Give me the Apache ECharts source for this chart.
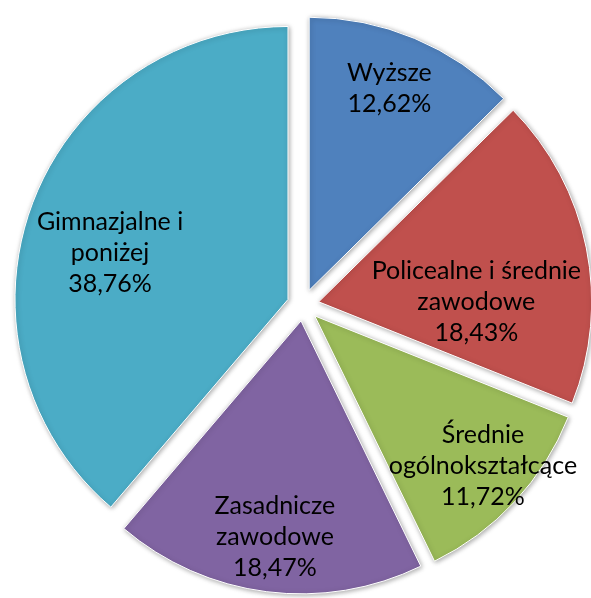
<!DOCTYPE html>
<html><head><meta charset="utf-8">
<script src="https://cdn.jsdelivr.net/npm/echarts@6/dist/echarts.min.js"></script>
<style>html,body{margin:0;padding:0;background:#fff}#c{width:591px;height:598px}</style>
</head><body><div id="c"></div>
<script>
const categories = ['Wyższe', 'Policealne i średnie\nzawodowe', 'Średnie\nogólnokształcące', 'Zasadnicze\nzawodowe', 'Gimnazjalne i\nponiżej'];
const values = [12.62, 18.43, 11.72, 18.47, 38.76];
const colors = ['#4F81BD', '#C0504D', '#9BBB59', '#8064A2', '#4BACC6'];
// small label nudges (px) to mimic the original placement
const labelNudge = [[0, -10], [-46, 41], [16, 9], [0, 10], [17, 25]];

const chart = echarts.init(document.getElementById('c'), null, {renderer: 'canvas'});
const fmt = v => v.toFixed(2).replace('.', ',') + '%';
const center = [303, 305];
const R = 273;
const off = 16;

const baseData = categories.map((c, i) => ({
  name: c, value: values[i], selected: true,
  itemStyle: {color: colors[i]}
}));
const overlayData = categories.map((c, i) => ({
  name: c, value: values[i], selected: true,
  itemStyle: {color: 'rgba(0,0,0,0)'}
}));

chart.setOption({
  animation: false,
  series: [
    {
      type: 'pie', center: center, radius: [0, R], startAngle: 90, clockwise: true,
      selectedMode: 'multiple', selectedOffset: off, silent: true,
      data: baseData,
      itemStyle: {borderColor: '#ffffff', borderWidth: 1, shadowBlur: 5, shadowColor: 'rgba(0,0,0,0.35)', shadowOffsetX: 1, shadowOffsetY: 1},
      label: {show: false}, labelLine: {show: false}
    },
    {
      type: 'pie', center: center, radius: [R * 0.5, R], startAngle: 90, clockwise: true,
      selectedMode: 'multiple', selectedOffset: off, silent: true, z: 3,
      data: overlayData,
      itemStyle: {borderWidth: 0},
      label: {
        show: true, position: 'inside', color: '#000', fontFamily: 'Lato, "Noto Sans", sans-serif',
        fontSize: 25, lineHeight: 31, align: 'center',
        formatter: p => p.name + '\n' + fmt(p.value)
      },
      labelLine: {show: false},
      labelLayout: p => ({dx: labelNudge[p.dataIndex][0], dy: labelNudge[p.dataIndex][1]}),
      emphasis: {disabled: true}
    }
  ]
});
</script></body></html>
